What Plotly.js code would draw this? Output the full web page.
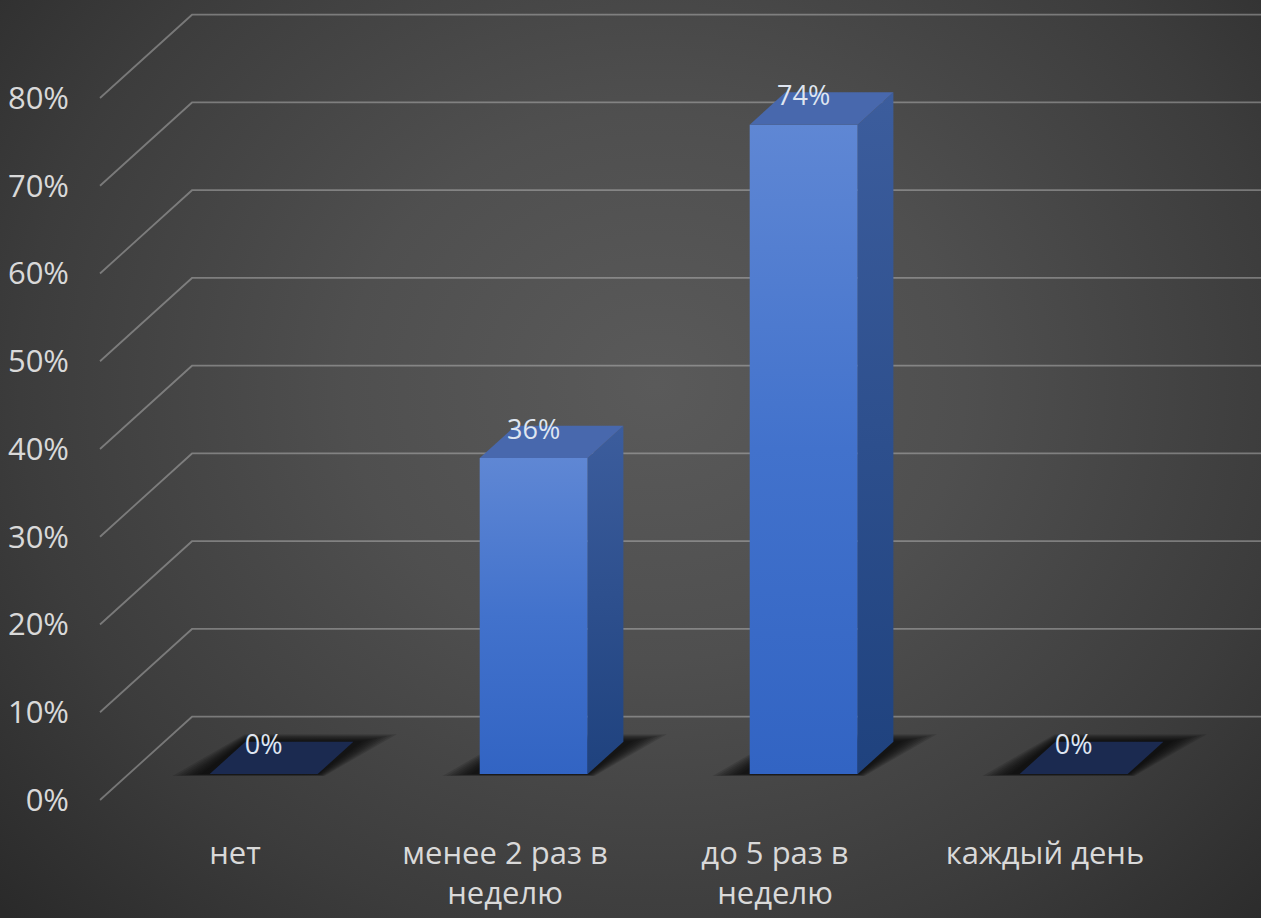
<!DOCTYPE html>
<html>
<head>
<meta charset="utf-8">
<script src="https://cdn.plot.ly/plotly-3.0.1.min.js"></script>
<style>
  html, body { margin: 0; padding: 0; background: #2e2e2e; }
  #chart {
    width: 1261px; height: 918px;
    background: radial-gradient(ellipse 70% 85% at 52% 42%, #5a5a5a 0%, #4f4f4f 35%, #3c3c3c 72%, #2a2a2a 100%);
  }
</style>
</head>
<body>
<div id="chart"></div>
<script>
// ---- data ----
const categories = ['нет', 'менее 2 раз в<br>неделю', 'до 5 раз в<br>неделю', 'каждый день'];
const values = [0, 36, 74, 0];
const yTickValues = [0, 10, 20, 30, 40, 50, 60, 70, 80];
const yTickLabels = ['0%', '10%', '20%', '30%', '40%', '50%', '60%', '70%', '80%'];

// ---- pseudo-3D geometry (style constants) ----
const DX = 0.3407;      // x shift (category units) for full depth
const DY = 9.49;        // y shift (percent units) for full depth
const D0 = 0.312, D1 = 0.70;   // bar front/back depth fractions
const HALF = 0.2;       // half bar width (category units)
const FLOOR_LEFT = -0.5, FLOOR_RIGHT = 4.2;

function P(x, v, d) { return [x + DX * d, v + DY * d]; }
function poly(pts) {
  const xs = [], ys = [];
  pts.forEach(p => { xs.push(p[0]); ys.push(p[1]); });
  xs.push(pts[0][0]); ys.push(pts[0][1]);
  return {x: xs, y: ys};
}

const traces = [];

// perspective gridlines (side wall + back wall)
const gx = [], gy = [];
yTickValues.forEach(v => {
  const a = P(FLOOR_LEFT, v, 0), b = P(FLOOR_LEFT, v, 1);
  gx.push(a[0], b[0], FLOOR_RIGHT, null);
  gy.push(a[1], b[1], b[1], null);
});
traces.push({x: gx, y: gy, mode: 'lines', line: {color: 'rgba(205,205,205,0.42)', width: 1.8}, hoverinfo: 'skip'});

function face(pts, opts) {
  const p = poly(pts);
  return Object.assign({x: p.x, y: p.y, mode: 'lines', fill: 'toself', line: {width: 0}, hoverinfo: 'skip'}, opts);
}

values.forEach((v, i) => {
  const l = i - HALF, r = i + HALF;
  // soft shadow: stacked translucent footprints
  const steps = 8;
  for (let k = steps; k >= 1; k--) {
    const t = k / steps;
    const ex = 0.11 * t, ed = 0.09 * t;
    traces.push(face([P(l - ex - 0.02, 0, D0 - ed * 0.25), P(r + ex * 0.3, 0, D0 - ed * 0.25),
                      P(r + ex + 0.02, 0, D1 + ed), P(l - ex * 0.3, 0, D1 + ed)],
      {fillcolor: 'rgba(0,0,0,0.13)'}));
  }
  if (v > 0) {
    // front face
    traces.push(face([P(l, 0, D0), P(r, 0, D0), P(r, v, D0), P(l, v, D0)],
      {fillgradient: {type: 'vertical', colorscale: [[0, '#3264c3'], [0.5, '#4272cc'], [1, '#5f87d4']]}}));
    // side face
    traces.push(face([P(r, 0, D0), P(r, 0, D1), P(r, v, D1), P(r, v, D0)],
      {fillgradient: {type: 'vertical', colorscale: [[0, '#1f427e'], [1, '#3c5d9d']]}}));
    // top face
    traces.push(face([P(l, v, D0), P(r, v, D0), P(r, v, D1), P(l, v, D1)], {fillcolor: '#4868ad'}));
  } else {
    traces.push(face([P(l, 0, D0), P(r, 0, D0), P(r, 0, D1), P(l, 0, D1)], {fillcolor: '#1b2a50'}));
  }
});

// data labels
const lx = [], ly = [], lt = [];
values.forEach((v, i) => {
  const p = P(i, v, D0);
  lx.push(p[0]); ly.push(p[1] + 3.0); lt.push(v + '%');
});
traces.push({x: lx, y: ly, text: lt, mode: 'text', textposition: 'middle center',
  textfont: {family: 'Open Sans, Noto Sans, sans-serif', size: 27, color: '#dfe5f0'}, hoverinfo: 'skip'});

const layout = {
  width: 1261, height: 918, autosize: false,
  margin: {l: 80, r: 0, t: 0, b: 88, pad: 0},
  paper_bgcolor: 'rgba(0,0,0,0)', plot_bgcolor: 'rgba(0,0,0,0)',
  showlegend: false,
  font: {family: 'Open Sans, Noto Sans, sans-serif', color: '#d9d9d9'},
  xaxis: {
    range: [-0.5741, 3.8], tickmode: 'array',
    tickvals: categories.map((c, i) => i), ticktext: categories,
    showgrid: false, zeroline: false, showline: false, ticks: '',
    tickfont: {size: 31, color: '#d9d9d9'}, ticklabelstandoff: 2, fixedrange: true
  },
  yaxis: {
    range: [-3.419, 91.168], tickmode: 'array',
    tickvals: yTickValues, ticktext: yTickLabels,
    showgrid: false, zeroline: false, showline: false, ticks: '',
    tickfont: {size: 31, color: '#d9d9d9'}, ticklabelstandoff: 10, fixedrange: true
  }
};

Plotly.newPlot('chart', traces, layout, {displayModeBar: false, staticPlot: true});
</script>
</body>
</html>
